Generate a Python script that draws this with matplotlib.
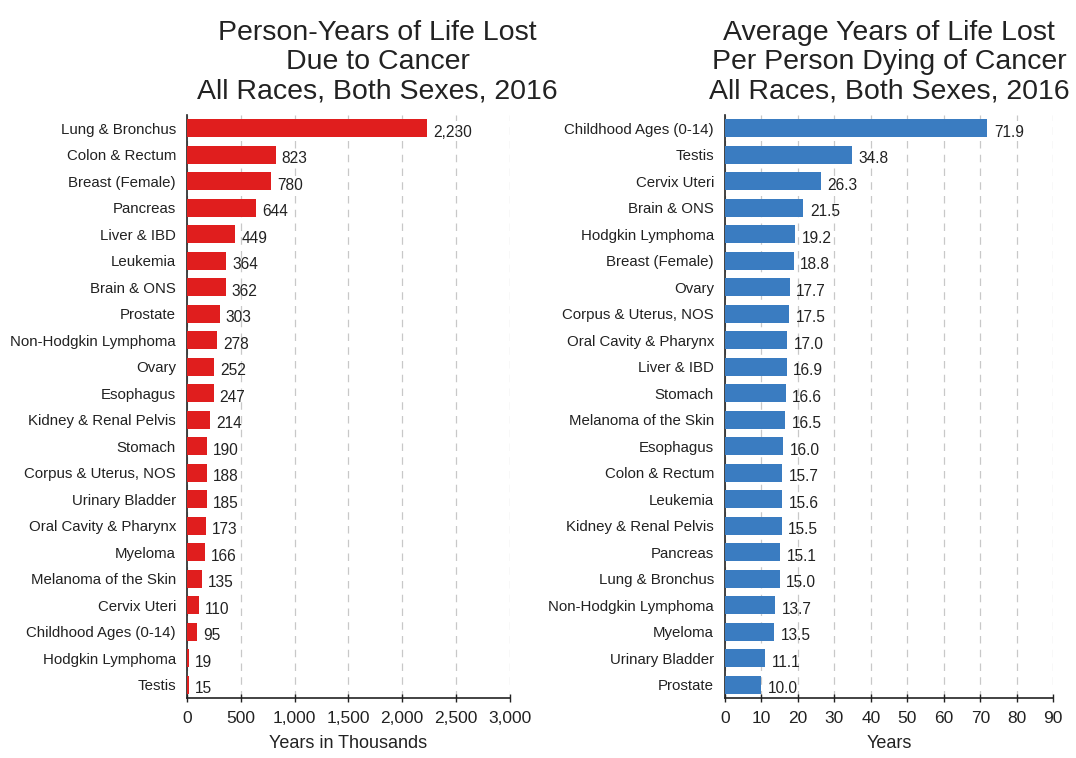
import matplotlib
matplotlib.use('Agg')
import matplotlib.pyplot as plt
from matplotlib.ticker import FuncFormatter

plt.rcParams['font.family'] = ['Liberation Sans', 'DejaVu Sans']

# Left panel: person-years of life lost (thousands)
left_sites = ['Lung & Bronchus', 'Colon & Rectum', 'Breast (Female)', 'Pancreas',
              'Liver & IBD', 'Leukemia', 'Brain & ONS', 'Prostate',
              'Non-Hodgkin Lymphoma', 'Ovary', 'Esophagus', 'Kidney & Renal Pelvis',
              'Stomach', 'Corpus & Uterus, NOS', 'Urinary Bladder',
              'Oral Cavity & Pharynx', 'Myeloma', 'Melanoma of the Skin',
              'Cervix Uteri', 'Childhood Ages (0-14)', 'Hodgkin Lymphoma', 'Testis']
left_values = [2230, 823, 780, 644, 449, 364, 362, 303, 278, 252, 247, 214,
               190, 188, 185, 173, 166, 135, 110, 95, 19, 15]
left_ticks = [0, 500, 1000, 1500, 2000, 2500, 3000]

# Right panel: average years of life lost per person
right_sites = ['Childhood Ages (0-14)', 'Testis', 'Cervix Uteri', 'Brain & ONS',
               'Hodgkin Lymphoma', 'Breast (Female)', 'Ovary', 'Corpus & Uterus, NOS',
               'Oral Cavity & Pharynx', 'Liver & IBD', 'Stomach', 'Melanoma of the Skin',
               'Esophagus', 'Colon & Rectum', 'Leukemia', 'Kidney & Renal Pelvis',
               'Pancreas', 'Lung & Bronchus', 'Non-Hodgkin Lymphoma', 'Myeloma',
               'Urinary Bladder', 'Prostate']
right_values = [71.9, 34.8, 26.3, 21.5, 19.2, 18.8, 17.7, 17.5, 17.0, 16.9, 16.6,
                16.5, 16.0, 15.7, 15.6, 15.5, 15.1, 15.0, 13.7, 13.5, 11.1, 10.0]
right_ticks = [0, 10, 20, 30, 40, 50, 60, 70, 80, 90]

fig = plt.figure(figsize=(10.76, 7.58), dpi=100)
ax1 = fig.add_axes([0.1738, 0.079, 0.300, 0.769])
ax2 = fig.add_axes([0.6738, 0.079, 0.305, 0.769])


def draw_panel(ax, sites, values, ticks, color, fmt, xlabel, title, pad, title_x):
    y = list(range(len(sites)))
    ax.barh(y, values, height=0.68, color=color, zorder=3)
    ax.set_yticks(y)
    ax.set_yticklabels(sites, fontsize=10.8, color='#222222')
    ax.set_ylim(len(sites) - 0.5, -0.5)
    ax.set_xlim(ticks[0], ticks[-1])
    ax.set_xticks(ticks)
    ax.xaxis.set_major_formatter(FuncFormatter(lambda v, p: f'{v:,.0f}'))
    ax.tick_params(axis='x', labelsize=12.5, length=6, direction='inout', width=1,
                   colors='#222222', pad=6)
    ax.tick_params(axis='y', length=0, pad=8)
    ax.grid(axis='x', linestyle=(0, (6, 5)), color='#c8c8c8', linewidth=0.9, zorder=0)
    for s in ['top', 'right']:
        ax.spines[s].set_visible(False)
    for s in ['left', 'bottom']:
        ax.spines[s].set_color('#222222')
        ax.spines[s].set_linewidth(1.2)
    for yi, v in zip(y, values):
        ax.text(v + pad, yi + 0.15, fmt.format(v), va='center', ha='left',
                fontsize=11.2, color='#222222', zorder=4)
    ax.set_xlabel(xlabel, fontsize=13, color='#222222', labelpad=7)
    ax.set_title(title, fontsize=20.5, color='#222222', pad=12, linespacing=1.17,
                 x=title_x)


draw_panel(ax1, left_sites, left_values, left_ticks, '#e01e1e', '{:,.0f}',
           'Years in Thousands',
           'Person-Years of Life Lost\nDue to Cancer\nAll Races, Both Sexes, 2016',
           55, 0.59)
draw_panel(ax2, right_sites, right_values, right_ticks, '#3a7cc1', '{:.1f}',
           'Years',
           'Average Years of Life Lost\nPer Person Dying of Cancer\nAll Races, Both Sexes, 2016',
           1.8, 0.5)

fig.savefig('out.png', dpi=100)
